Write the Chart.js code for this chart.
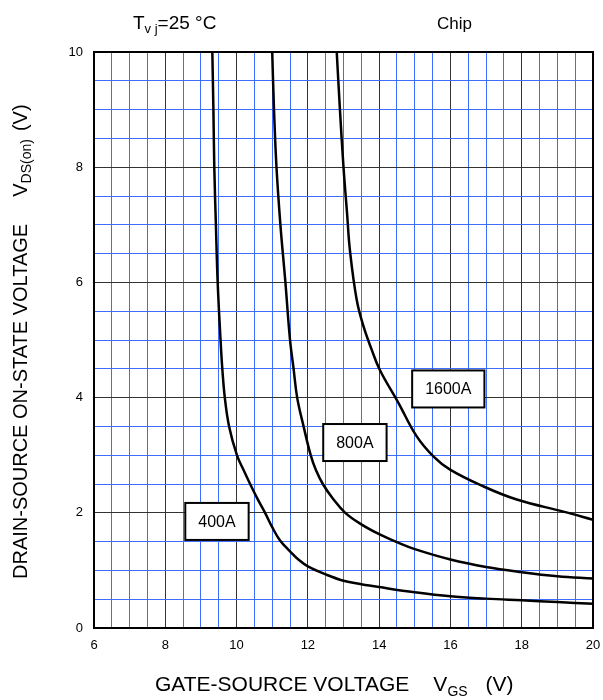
<!DOCTYPE html>
<html>
<head>
<meta charset="utf-8">
<script src="https://cdn.jsdelivr.net/npm/chart.js@4.4.1/dist/chart.umd.min.js"></script>
<style>
    body { margin: 0; background: #fff; }
    canvas { display: block; }
</style>
</head>
<body>
<canvas id="chart" width="603" height="700"></canvas>
<script>
// ==================== DATA ====================
const vgs400 = [9.32, 9.35, 9.375, 9.42, 9.47, 9.55, 9.6, 9.67, 9.79, 10.01, 10.19, 10.38, 10.58, 10.8, 11.0, 11.22, 11.5, 11.75, 12.0, 12.5, 13.0, 13.5, 14.0, 15.0, 16.0, 17.0, 18.0, 19.0, 20.0];
const vds400 = [10, 9, 8, 7, 6, 5, 4.5, 4.0, 3.5, 3.0, 2.75, 2.5, 2.25, 2.0, 1.75, 1.52, 1.33, 1.18, 1.07, 0.93, 0.82, 0.76, 0.71, 0.62, 0.55, 0.51, 0.48, 0.45, 0.42];

const vgs800 = [11.0, 11.05, 11.12, 11.23, 11.37, 11.5, 11.6, 11.7, 11.88, 12.08, 12.22, 12.42, 12.7, 13.05, 13.5, 14.0, 14.5, 15.0, 16.0, 17.0, 18.0, 19.0, 20.0];
const vds800 = [10, 9, 8, 7, 6, 5, 4.5, 4.0, 3.5, 3.0, 2.75, 2.5, 2.25, 2.0, 1.8, 1.63, 1.49, 1.37, 1.19, 1.06, 0.97, 0.9, 0.86];

const vgs1600 = [12.81, 12.9, 13.0, 13.1, 13.18, 13.37, 13.56, 13.78, 14.02, 14.54, 15.05, 15.52, 15.99, 16.92, 17.86, 19.17, 20.0];
const vds1600 = [10, 9, 8, 7.2, 6.56, 5.7, 5.24, 4.85, 4.48, 3.91, 3.33, 2.98, 2.75, 2.46, 2.23, 2.02, 1.88];

const curveNames = ['400A', '800A', '1600A'];
// label box centres in data units (VGS, VDS)
const labelVgs = [9.45, 13.32, 15.94];
const labelVds = [1.85, 3.22, 4.15];

const xTickLabels = [6, 8, 10, 12, 14, 16, 18, 20];
const yTickLabels = [0, 2, 4, 6, 8, 10];

// ==================== HELPERS ====================
const FONT = "'Liberation Sans', Arial, sans-serif";
const toPoints = (xs, ys) => xs.map((x, i) => ({ x: x, y: ys[i] }));
const isMajor = v => Math.abs(v / 2 - Math.round(v / 2)) < 1e-6;

function gridColor(ctx) {
    return isMajor(ctx.tick.value) ? '#333333' : '#3d6dff';
}

// draws text pieces, subscripts smaller and lower; returns end x
function drawWithSub(ctx, parts, x, y, size, subSize) {
    parts.forEach(p => {
        if (p.sub) {
            ctx.font = subSize + 'px ' + FONT;
            ctx.fillText(p.text, x, y + size * 0.22);
        } else {
            ctx.font = size + 'px ' + FONT;
            ctx.fillText(p.text, x, y);
        }
        x += ctx.measureText(p.text).width;
    });
    return x;
}

// ==================== TEXT / FRAME PLUGIN ====================
const decorPlugin = {
    id: 'decor',
    afterDraw(chart) {
        const ctx = chart.ctx;
        const area = chart.chartArea;
        const xs = chart.scales.x, ys = chart.scales.y;
        ctx.save();

        // frame
        ctx.strokeStyle = '#000';
        ctx.lineWidth = 2;
        ctx.strokeRect(area.left, area.top, area.right - area.left, area.bottom - area.top);

        // curve labels
        ctx.textAlign = 'center';
        ctx.textBaseline = 'middle';
        ctx.font = '16px ' + FONT;
        curveNames.forEach((name, i) => {
            const cx = xs.getPixelForValue(labelVgs[i]);
            const cy = ys.getPixelForValue(labelVds[i]);
            const w = ctx.measureText(name).width + 26;
            const h = 37;
            ctx.fillStyle = '#fff';
            ctx.fillRect(cx - w / 2, cy - h / 2, w, h);
            ctx.lineWidth = 2;
            ctx.strokeRect(cx - w / 2, cy - h / 2, w, h);
            ctx.fillStyle = '#000';
            ctx.fillText(name, cx, cy + 1);
        });

        // header
        ctx.textAlign = 'left';
        ctx.textBaseline = 'alphabetic';
        ctx.fillStyle = '#000';
        drawWithSub(ctx, [{ text: 'T' }, { text: 'v j', sub: true }, { text: '=25 °C' }], 133, 29, 19, 13);
        ctx.font = '17px ' + FONT;
        ctx.fillText('Chip', 437, 29);

        // x axis title
        let x = drawWithSub(ctx, [{ text: 'GATE-SOURCE VOLTAGE' }], 155, 691, 21, 14);
        x = drawWithSub(ctx, [{ text: 'V' }, { text: 'GS', sub: true }], x + 24, 691, 21, 14);
        drawWithSub(ctx, [{ text: '(V)' }], x + 18, 691, 21, 14);

        // y axis title
        ctx.translate(27, 579);
        ctx.rotate(-Math.PI / 2);
        x = drawWithSub(ctx, [{ text: 'DRAIN-SOURCE ON-STATE VOLTAGE' }], 0, 0, 20, 14);
        x = drawWithSub(ctx, [{ text: 'V' }, { text: 'DS(on)', sub: true }], x + 27, 0, 20, 14);
        drawWithSub(ctx, [{ text: '(V)' }], x + 8, 0, 20, 14);

        ctx.restore();
    }
};

// ==================== CHART ====================
const lineStyle = {
    borderColor: '#000',
    borderWidth: 2.5,
    pointRadius: 0,
    fill: false,
    tension: 0.4
};

new Chart(document.getElementById('chart'), {
    type: 'line',
    data: {
        datasets: [
            Object.assign({ label: curveNames[0], data: toPoints(vgs400, vds400) }, lineStyle),
            Object.assign({ label: curveNames[1], data: toPoints(vgs800, vds800) }, lineStyle),
            Object.assign({ label: curveNames[2], data: toPoints(vgs1600, vds1600) }, lineStyle)
        ]
    },
    options: {
        responsive: false,
        animation: false,
        devicePixelRatio: 1,
        layout: { padding: { top: 52, right: 0, left: 0, bottom: 0 } },
        plugins: {
            legend: { display: false },
            tooltip: { enabled: false }
        },
        scales: {
            x: {
                type: 'linear',
                min: 6,
                max: 20,
                border: { display: false },
                grid: { color: gridColor, lineWidth: 1, drawTicks: false },
                ticks: {
                    stepSize: 0.5,
                    maxTicksLimit: 100,
                    autoSkip: false,
                    maxRotation: 0,
                    padding: 10,
                    color: '#000',
                    font: { family: FONT, size: 13 },
                    callback: v => xTickLabels.includes(v) ? String(v) : ''
                },
                afterFit: s => {
                    s.height = 72;
                    s.paddingLeft = 0;
                    s.paddingRight = 10;
                }
            },
            y: {
                type: 'linear',
                min: 0,
                max: 10,
                border: { display: false },
                grid: { color: gridColor, lineWidth: 1, drawTicks: false },
                ticks: {
                    stepSize: 0.5,
                    maxTicksLimit: 100,
                    autoSkip: false,
                    padding: 11,
                    color: '#000',
                    font: { family: FONT, size: 13 },
                    callback: v => yTickLabels.includes(v) ? String(v) : ''
                },
                afterFit: s => { s.width = 94; }
            }
        }
    },
    plugins: [decorPlugin]
});
</script>
</body>
</html>
